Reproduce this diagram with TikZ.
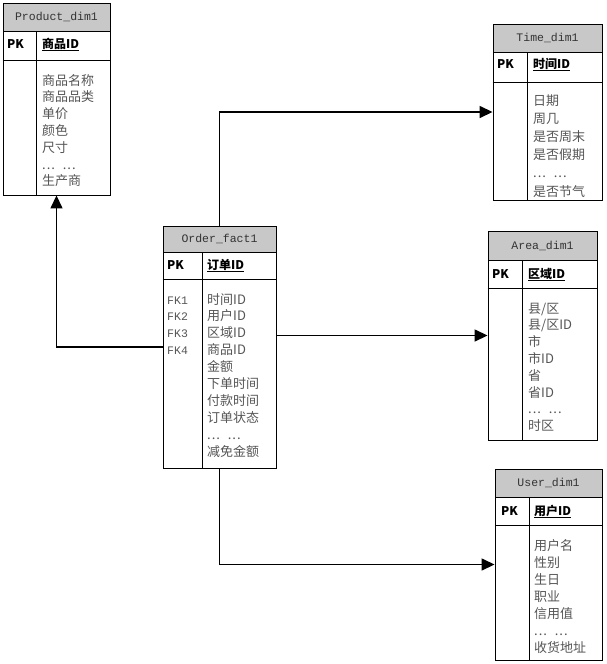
\documentclass[tikz,border=0pt]{standalone}
\usepackage{fontspec}
\usetikzlibrary{calc,arrows.meta}
\newfontfamily\cjk{Noto Sans CJK SC}
\newfontfamily\mono{Liberation Mono}
\definecolor{hdrgray}{RGB}{200,200,200}
\definecolor{fldgray}{RGB}{85,85,85}
\newcommand{\etcrow}{.\kern1pt.\kern1pt.\hspace{0.6em}.\kern1pt.\kern1pt.}
\tikzset{
 tbl/.style={draw,line width=0.9pt,inner sep=0pt},
 ttl/.style={draw,line width=0.9pt,fill=hdrgray,inner sep=0pt,anchor=north,font=\mono\fontsize{11.5}{12}\selectfont,text=black!80},
 pk/.style={anchor=base west,inner sep=0pt,font=\cjk\bfseries\fontsize{12}{14}\selectfont},
 fld/.style={anchor=base west,inner sep=0pt,font=\cjk\fontsize{13}{15}\selectfont,text=fldgray},
 fk/.style={anchor=base west,inner sep=0pt,font=\mono\fontsize{11.5}{14}\selectfont,text=fldgray},
 link/.style={line width=1.5pt,-{Triangle[length=13pt,width=12pt]}}
}
\begin{document}
\begin{tikzpicture}[x=1pt,y=-1pt]
 \useasboundingbox (0,0) rectangle (606,664);
 % Product_dim1
 \node[tbl,minimum width=107,minimum height=192] (product) at (56.5,99) {};
 \node[ttl,minimum width=107,minimum height=28] (product-t) at (product.north) {Product\_dim1};
 \draw[line width=0.9pt] (product.west |- 0,60) -- (product.east |- 0,60) (36,31) -- (36,195);
 \node[pk] (product-pk) at (7,48) {PK}; \node[pk] (product-id) at (42,48) {\underline{商品ID}};
 \foreach \t [count=\i from 0] in {商品名称,商品品类,单价,颜色,尺寸,\etcrow,生产商}
  \node[fld] (product-f\i) at (42,85+16.8*\i) {\t};
 % Time_dim1
 \node[tbl,minimum width=109,minimum height=176] (time) at (547.5,112) {};
 \node[ttl,minimum width=109,minimum height=28] (time-t) at (time.north) {Time\_dim1};
 \draw[line width=0.9pt] (time.west |- 0,82) -- (time.east |- 0,82) (527,52) -- (527,200);
 \node[pk] (time-pk) at (497,68) {PK}; \node[pk] (time-id) at (533,68) {\underline{时间ID}};
 \foreach \t [count=\i from 0] in {日期,周几,是否周末,是否假期,\etcrow,是否节气}
  \node[fld] (time-f\i) at (533,105+18.2*\i) {\t};
 % Order_fact1
 \node[tbl,minimum width=113,minimum height=242] (order) at (219.5,347) {};
 \node[ttl,minimum width=113,minimum height=26] (order-t) at (order.north) {Order\_fact1};
 \draw[line width=0.9pt] (order.west |- 0,279) -- (order.east |- 0,279) (202,252) -- (202,468);
 \node[pk] (order-pk) at (167,269) {PK}; \node[pk] (order-id) at (207,269) {\underline{订单ID}};
 \foreach \t [count=\i from 0] in {FK1,FK2,FK3,FK4}
  \node[fk] (order-k\i) at (167,304+16.9*\i) {\t};
 \foreach \t [count=\i from 0] in {时间ID,用户ID,区域ID,商品ID,金额,下单时间,付款时间,订单状态,\etcrow,减免金额}
  \node[fld] (order-f\i) at (207,304+16.9*\i) {\t};
 % Area_dim1
 \node[tbl,minimum width=109,minimum height=209] (area) at (542.5,335.5) {};
 \node[ttl,minimum width=109,minimum height=29] (area-t) at (area.north) {Area\_dim1};
 \draw[line width=0.9pt] (area.west |- 0,288) -- (area.east |- 0,288) (522,260) -- (522,440);
 \node[pk] (area-pk) at (492,278) {PK}; \node[pk] (area-id) at (528,278) {\underline{区域ID}};
 \foreach \t [count=\i from 0] in {县/区,县/区ID,市,市ID,省,省ID,\etcrow,时区}
  \node[fld] (area-f\i) at (528,313+16.8*\i) {\t};
 % User_dim1
 \node[tbl,minimum width=107,minimum height=191] (user) at (548.5,564.5) {};
 \node[ttl,minimum width=107,minimum height=28] (user-t) at (user.north) {User\_dim1};
 \draw[line width=0.9pt] (user.west |- 0,525) -- (user.east |- 0,525) (529,497) -- (529,660);
 \node[pk] (user-pk) at (501,515) {PK}; \node[pk] (user-id) at (534,515) {\underline{用户ID}};
 \foreach \t [count=\i from 0] in {用户名,性别,生日,职业,信用值,\etcrow,收货地址}
  \node[fld] (user-f\i) at (534,550+17*\i) {\t};
 % links
 \draw[link] (order.north) |- (time.west);
 \draw[link] (order.west) -| (product.south);
 \draw[link] (order.east |- area.west) -- (area.west);
 \draw[link] (order.south) |- (user.west);
\end{tikzpicture}
\end{document}
